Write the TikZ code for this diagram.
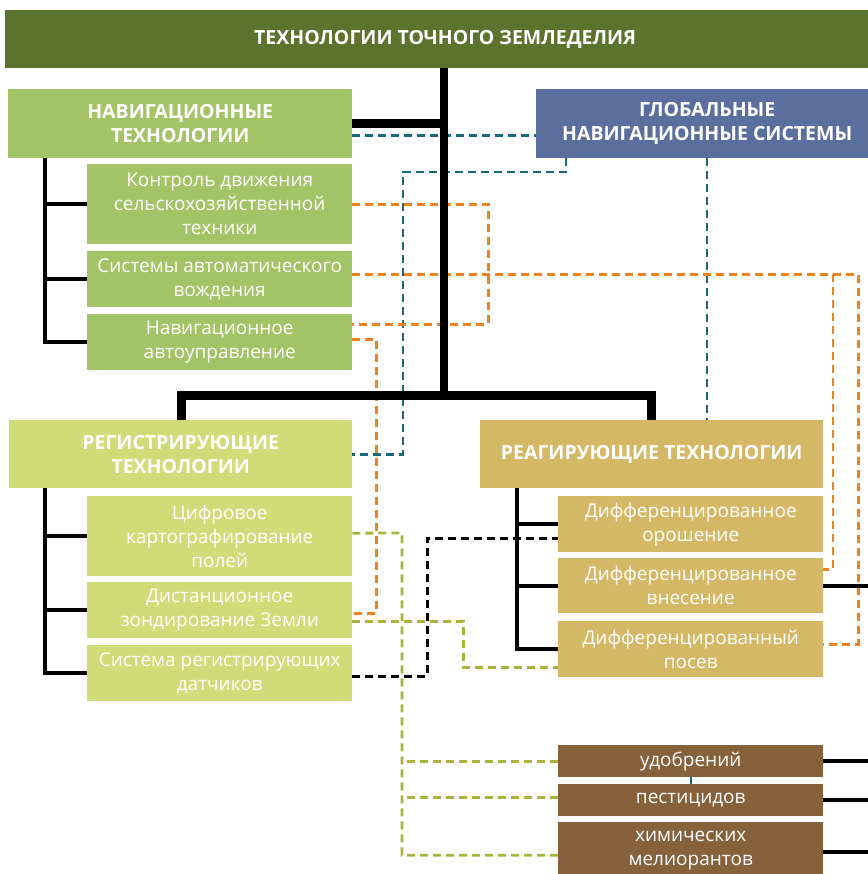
\documentclass[tikz,border=0pt]{standalone}
\usepackage{fontspec}
\setmainfont{Open Sans}
\usepackage{tikz}
\usetikzlibrary{positioning, calc}

\definecolor{titlegreen}{HTML}{5B732D}
\definecolor{navgreen}{HTML}{A3C466}
\definecolor{gnsblue}{HTML}{5A6F9E}
\definecolor{reglime}{HTML}{CFDC78}
\definecolor{reactgold}{HTML}{D4B866}
\definecolor{chembrown}{HTML}{87613B}
\definecolor{linkorange}{HTML}{F0821E}
\definecolor{linkblue}{HTML}{17677F}
\definecolor{linkgreen}{HTML}{A8B53A}

\begin{document}
\begin{tikzpicture}[x=1pt, y=-1pt,
    box/.style={anchor=north west, inner sep=0pt, align=center, text=white,
        font=\fontsize{19}{24}\selectfont},
    head/.style={box, font=\bfseries\fontsize{19.5}{24}\selectfont},
    item/.style={box, minimum width=265pt},
    trunk/.style={line width=8pt},
    branch/.style={line width=4pt},
    link/.style={line width=2.8pt, dash pattern=on 8pt off 5pt}
]
    \useasboundingbox (0,0) rectangle (867,874);

    % Headers
    \node[head, fill=titlegreen, minimum width=880pt, minimum height=58pt] (title) at (5,10) {ТЕХНОЛОГИИ ТОЧНОГО ЗЕМЛЕДЕЛИЯ};
    \node[head, fill=navgreen, minimum width=344pt, minimum height=69pt] (nav) at (8,89) {НАВИГАЦИОННЫЕ\\ТЕХНОЛОГИИ};
    \node[head, fill=gnsblue, minimum width=342pt, minimum height=69pt] (gns) at (536,89) {ГЛОБАЛЬНЫЕ\\НАВИГАЦИОННЫЕ СИСТЕМЫ};
    \node[head, fill=reglime, minimum width=343pt, minimum height=68pt] (reg) at (9,420) {РЕГИСТРИРУЮЩИЕ\\ТЕХНОЛОГИИ};
    \node[head, fill=reactgold, minimum width=343pt, minimum height=68pt] (react) at (480,420) {РЕАГИРУЮЩИЕ ТЕХНОЛОГИИ};

    % Navigation items
    \node[item, fill=navgreen, minimum height=80pt] (ctl) at (87,164) {Контроль движения\\сельскохозяйственной\\техники};
    \node[item, fill=navgreen, minimum height=56pt] (auto) at (87,251) {Системы автоматического\\вождения};
    \node[item, fill=navgreen, minimum height=56pt] (steer) at (87,314) {Навигационное\\автоуправление};

    % Registering items
    \node[item, fill=reglime, minimum height=80pt] (map) at (87,496) {Цифровое\\картографирование\\полей};
    \node[item, fill=reglime, minimum height=56pt] (remote) at (87,582) {Дистанционное\\зондирование Земли};
    \node[item, fill=reglime, minimum height=56pt] (sensors) at (87,645) {Система регистрирующих\\датчиков};

    % Reacting items
    \node[item, fill=reactgold, minimum height=56pt] (irrig) at (558,496) {Дифференцированное\\орошение};
    \node[item, fill=reactgold, minimum height=55pt] (apply) at (558,558) {Дифференцированное\\внесение};
    \node[item, fill=reactgold, minimum height=56pt] (sow) at (558,621) {Дифференцированный\\посев};

    % Applied substances
    \node[item, fill=chembrown, minimum height=32pt] (fert) at (558,745) {удобрений};
    \node[item, fill=chembrown, minimum height=32pt] (pest) at (558,784) {пестицидов};
    \node[item, fill=chembrown, minimum height=56pt] (chem) at (558,822) {химических\\мелиорантов};

    % Dashed links
    \draw[link, linkblue] ([yshift=-11.5pt]nav.east) -- ([yshift=-11.5pt]gns.west);
    \draw[link, linkblue] ([xshift=30pt]gns.south west) |- (403,172) |- (reg.east);
    \draw[link, linkblue] ([xshift=171pt]gns.south west) -- ([xshift=227pt]react.north west);
    \draw[line width=2pt, linkblue] (fert.south) -- (pest.north);

    \draw[link, linkorange] (ctl.east) -- ++(136,0) |- ([yshift=18pt]steer.east);
    \coordinate (oj) at (833,274);
    \draw[link, linkorange] ([yshift=5pt]auto.east) -| ([xshift=35pt,yshift=5pt]sow.east) -- ([yshift=5pt]sow.east);
    \draw[link, linkorange] (oj) |- ([yshift=16.5pt]apply.east);
    \draw[link, linkorange] ([yshift=3pt]steer.east) -- ++(24,0) |- ([yshift=-3pt]remote.east);

    \coordinate (gv) at (402,533);
    \draw[link, linkgreen] ([yshift=3pt]map.east) -- (gv) |- ([yshift=-5pt]chem.west);
    \draw[link, linkgreen] (fert.west) -- (fert.west -| gv);
    \draw[link, linkgreen] ([yshift=3pt]pest.west) -- ([yshift=3pt]pest.west -| gv);
    \draw[link, linkgreen] ([yshift=-11pt]remote.east) -- ++(111,0) |- ([yshift=-18pt]sow.west);

    \draw[link, black] ([yshift=-3pt]sensors.east) -- ++(75,0) |- ([yshift=-14pt]irrig.west);

    % Tree
    \coordinate (hub) at (444,395);
    \draw[trunk] (title.south -| hub) -- (hub);
    \draw[line width=9pt] (nav.east) -- (nav.east -| hub);
    \draw[line width=9pt] ([xshift=172pt]reg.north west) |- (hub) -| ([xshift=171pt]react.north west);

    \draw[branch] ([xshift=37pt]nav.south west) |- (ctl.west);
    \draw[branch] ([xshift=37pt]nav.south west) |- (auto.west);
    \draw[branch] ([xshift=37pt]nav.south west) |- (steer.west);

    \draw[branch] ([xshift=36pt]reg.south west) |- (map.west);
    \draw[branch] ([xshift=36pt]reg.south west) |- (remote.west);
    \draw[branch] ([xshift=36pt]reg.south west) |- (sensors.west);

    \draw[branch] ([xshift=37pt]react.south west) |- (irrig.west);
    \draw[branch] ([xshift=37pt]react.south west) |- (apply.west);
    \draw[branch] ([xshift=37pt]react.south west) |- (sow.west);

    \draw[branch] (apply.east) -- ++(50,0);
    \draw[branch] (fert.east) -- ++(50,0);
    \draw[branch] (pest.east) -- ++(50,0);
    \draw[branch] ([yshift=-2pt]chem.east) -- ++(50,0);
\end{tikzpicture}
\end{document}
